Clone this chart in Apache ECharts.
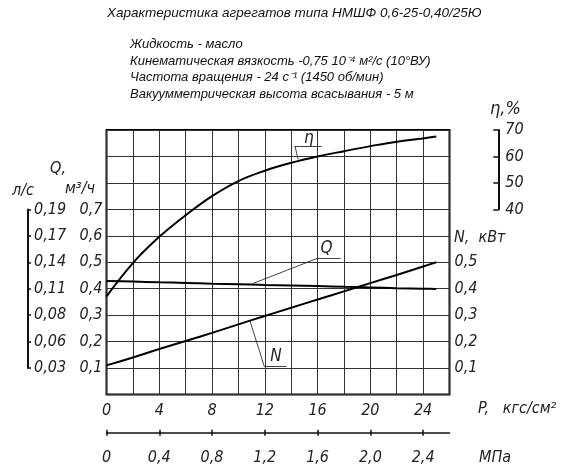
<!DOCTYPE html>
<html><head><meta charset="utf-8">
<script src="https://cdn.jsdelivr.net/npm/echarts@6/dist/echarts.min.js"></script>
<style>html,body{margin:0;padding:0;background:#fff}#c{width:564px;height:472px}</style>
</head><body><div id="c"></div>
<script>
// ---- data ----
const pressure = [0, 2, 4, 6, 8, 10, 12, 14, 16, 18, 20, 22, 24, 25];           // кгс/см²
const etaPct   = [7.1, 19.7, 29.6, 37.8, 45.0, 50.7, 54.6, 57.6, 60.0, 62.0, 63.9, 65.6, 66.8, 67.5];
const flowQ    = [0.429, 0.427, 0.424, 0.422, 0.419, 0.417, 0.414, 0.412, 0.410, 0.407, 0.405, 0.402, 0.400, 0.399]; // м³/ч
const powerN   = [0.110, 0.140, 0.172, 0.202, 0.233, 0.265, 0.297, 0.328, 0.359, 0.390, 0.421, 0.452, 0.484, 0.500]; // кВт

const pTickValues   = [0, 4, 8, 12, 16, 20, 24];
const pTickLabels   = ['0', '4', '8', '12', '16', '20', '24'];
const mpaTickLabels = ['0', '0,4', '0,8', '1,2', '1,6', '2,0', '2,4'];
const qTickValues   = [0.1, 0.2, 0.3, 0.4, 0.5, 0.6, 0.7];
const qTickLabels   = ['0,1', '0,2', '0,3', '0,4', '0,5', '0,6', '0,7'];
const lsTickLabels  = ['0,03', '0,06', '0,08', '0,11', '0,14', '0,17', '0,19'];
const nTickValues   = [0.1, 0.2, 0.3, 0.4, 0.5];
const nTickLabels   = ['0,1', '0,2', '0,3', '0,4', '0,5'];
const etaTickValues = [40, 50, 60, 70];

// annotation leaders (data coordinates)
const etaLeader = [[14.53, 58.9], [14.28, 64.0], [16.3, 64.0]];
const etaLabelAt = [15.34, 66.6];
const qLeader = [[11.12, 0.420], [16.0, 0.515], [17.74, 0.515]];
const qLabelAt = [16.68, 0.553];
const nLeader = [[10.87, 0.279], [11.95, 0.108], [13.65, 0.108]];
const nLabelAt = [12.84, 0.142];

const titleText = 'Характеристика агрегатов типа НМШФ 0,6-25-0,40/25Ю';
const infoLines = [
  'Жидкость - масло',
  'Кинематическая вязкость -0,75 10⁻⁴ м²/с (10°ВУ)',
  'Частота вращения - 24 с⁻¹ (1450 об/мин)',
  'Вакуумметрическая высота всасывания - 5 м'
];

// ---- chart ----
const FONT = "'Liberation Sans Narrow', 'DejaVu Sans Condensed', sans-serif";
const lab = { fontFamily: FONT, fontStyle: 'italic', fontSize: 16, color: '#222' };
const zip = (a, b) => a.map((v, i) => [v, b[i]]);
const leaderLines = pts => pts.slice(1).map((p, i) => [{ coord: pts[i] }, { coord: p }]);
const idx = (vals, v) => vals.findIndex(x => Math.abs(x - v) < 1e-6);

function annot(pts, at, txt) {
  return {
    markLine: {
      silent: true, symbol: 'none', animation: false,
      label: { show: false },
      lineStyle: { color: '#111', width: 0.8, type: 'solid' },
      emphasis: { disabled: true },
      data: leaderLines(pts)
    },
    markPoint: {
      silent: true, symbol: 'circle', symbolSize: 1,
      itemStyle: { color: 'rgba(0,0,0,0)' },
      label: { show: true, position: 'inside', formatter: txt, ...lab, fontSize: 17 },
      data: [{ coord: at }]
    }
  };
}

const chart = echarts.init(document.getElementById('c'));
const option = {
  animation: false,
  backgroundColor: '#fff',
  grid: [
    { left: 106.5, right: 114.5, top: 130, bottom: 77.5, show: true, borderColor: '#000', borderWidth: 2 },
    { left: 28, width: 1, top: 209.4, bottom: 103.9 },
    { right: 65.7, width: 1, top: 130, bottom: 262.6 }
  ],
  xAxis: [
    { gridIndex: 0, type: 'value', min: 0, max: 26, interval: 2,
      axisLine: { show: false, onZero: false }, axisTick: { show: false },
      splitLine: { show: true, lineStyle: { color: '#333', width: 1 } },
      axisLabel: { ...lab, margin: 8, customValues: pTickValues,
        formatter: v => pTickLabels[idx(pTickValues, v)] } },
    { gridIndex: 0, type: 'value', min: 0, max: 26, interval: 2, position: 'bottom', offset: 38.2,
      axisLine: { show: true, onZero: false, lineStyle: { color: '#111', width: 1.5 } },
      axisTick: { show: true, length: 3, customValues: pTickValues, lineStyle: { color: '#111', width: 1.5 } },
      splitLine: { show: false },
      axisLabel: { ...lab, margin: 17, customValues: pTickValues,
        formatter: v => mpaTickLabels[idx(pTickValues, v)] } },
    { gridIndex: 0, type: 'value', min: 0, max: 26, interval: 2, position: 'bottom', offset: 38.2,
      axisLine: { show: false, onZero: false },
      axisTick: { show: true, inside: true, length: 3, customValues: pTickValues, lineStyle: { color: '#111', width: 1.5 } },
      splitLine: { show: false }, axisLabel: { show: false } },
    { gridIndex: 1, type: 'value', show: false, min: 0, max: 1 },
    { gridIndex: 2, type: 'value', show: false, min: 0, max: 1 }
  ],
  yAxis: [
    { gridIndex: 0, type: 'value', position: 'left', min: 0, max: 1, interval: 0.1,
      axisLine: { show: false, onZero: false }, axisTick: { show: false },
      splitLine: { show: true, lineStyle: { color: '#333', width: 1 } },
      axisLabel: { ...lab, margin: 4, customValues: qTickValues,
        formatter: v => qTickLabels[idx(qTickValues, v)] } },
    { gridIndex: 0, type: 'value', position: 'right', min: 0, max: 1, interval: 0.1,
      axisLine: { show: false, onZero: false }, axisTick: { show: false }, splitLine: { show: false },
      axisLabel: { ...lab, margin: 5, customValues: nTickValues,
        formatter: v => nTickLabels[idx(nTickValues, v)] } },
    { gridIndex: 0, type: 'value', min: -30, max: 70, show: false, axisLine: { onZero: false } },
    { gridIndex: 1, type: 'value', position: 'left', min: 0.1, max: 0.7, interval: 0.1,
      axisLine: { show: true, onZero: false, lineStyle: { color: '#111', width: 2 } },
      axisTick: { show: true, inside: true, length: 3, customValues: qTickValues, lineStyle: { color: '#111', width: 1.5 } },
      splitLine: { show: false },
      axisLabel: { ...lab, inside: true, margin: 6, customValues: qTickValues,
        formatter: v => lsTickLabels[idx(qTickValues, v)] } },
    { gridIndex: 2, type: 'value', position: 'right', min: 40, max: 70, interval: 10,
      axisLine: { show: true, onZero: false, lineStyle: { color: '#111', width: 2 } },
      axisTick: { show: true, inside: true, length: 5, customValues: etaTickValues, lineStyle: { color: '#111', width: 1.5 } },
      splitLine: { show: false },
      axisLabel: { ...lab, margin: 7, customValues: etaTickValues, formatter: v => String(v) } }
  ],
  series: [
    { name: 'η', type: 'line', xAxisIndex: 0, yAxisIndex: 2, data: zip(pressure, etaPct),
      smooth: 0.4, showSymbol: false, lineStyle: { color: '#000', width: 2 }, ...annot(etaLeader, etaLabelAt, 'η') },
    { name: 'Q', type: 'line', xAxisIndex: 0, yAxisIndex: 0, data: zip(pressure, flowQ),
      smooth: 0.3, showSymbol: false, lineStyle: { color: '#000', width: 2 }, ...annot(qLeader, qLabelAt, 'Q') },
    { name: 'N', type: 'line', xAxisIndex: 0, yAxisIndex: 1, data: zip(pressure, powerN),
      smooth: 0.3, showSymbol: false, lineStyle: { color: '#000', width: 2 }, ...annot(nLeader, nLabelAt, 'N') }
  ],
  graphic: [
    { type: 'text', left: 107, top: 6, style: { text: titleText, font: 'italic 13.5px "Liberation Sans", Arial, sans-serif', fill: '#111' } },
    { type: 'text', left: 130, top: 36, style: { text: infoLines.join('\n'), font: 'italic 13px "Liberation Sans", Arial, sans-serif', lineHeight: 16.7, fill: '#111' } },
    { type: 'text', x: 58, y: 169, style: { text: 'Q,', font: 'italic 16px ' + FONT, fill: '#222', align: 'center', verticalAlign: 'middle' } },
    { type: 'text', x: 80, y: 189, style: { text: 'м³/ч', font: 'italic 16px ' + FONT, fill: '#222', align: 'center', verticalAlign: 'middle' } },
    { type: 'text', x: 23, y: 191, style: { text: 'л/с', font: 'italic 16px ' + FONT, fill: '#222', align: 'center', verticalAlign: 'middle' } },
    { type: 'text', x: 454, y: 238, style: { text: 'N,  кВт', font: 'italic 16px ' + FONT, fill: '#222', align: 'left', verticalAlign: 'middle' } },
    { type: 'text', x: 490, y: 109, style: { text: 'η,%', font: 'italic 18px ' + FONT, fill: '#222', align: 'left', verticalAlign: 'middle' } },
    { type: 'text', x: 478, y: 409, style: { text: 'P,   кгс/см²', font: 'italic 16px ' + FONT, fill: '#222', align: 'left', verticalAlign: 'middle' } },
    { type: 'text', x: 479, y: 457.5, style: { text: 'МПа', font: 'italic 16px ' + FONT, fill: '#222', align: 'left', verticalAlign: 'middle' } }
  ]
};
chart.setOption(option);
</script>
</body></html>
